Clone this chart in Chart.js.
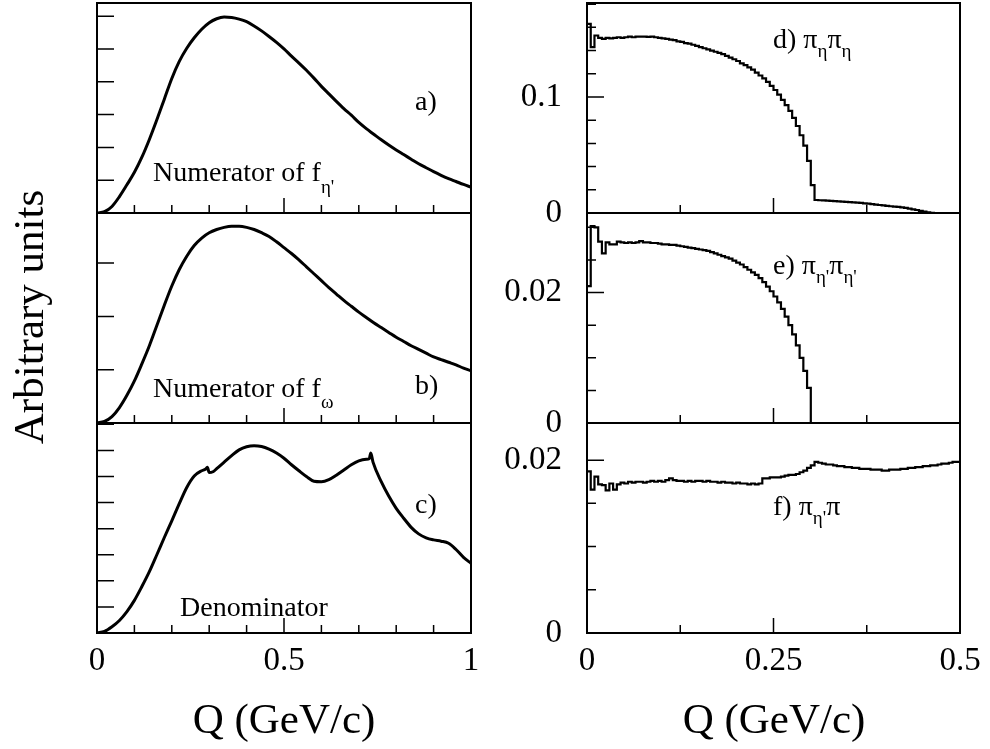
<!DOCTYPE html>
<html>
<head>
<meta charset="utf-8">
<title>Q distributions</title>
<script src="https://cdn.jsdelivr.net/npm/chart.js@4.4.0/dist/chart.umd.min.js"></script>
<style>
  html, body { margin: 0; padding: 0; background: #fff; }
  #wrap { position: relative; width: 990px; height: 749px; }
  #wrap canvas { position: absolute; left: 0; top: 0; }
</style>
</head>
<body>
<div id="wrap">
  <canvas id="pa" width="990" height="749"></canvas>
  <canvas id="pb" width="990" height="749"></canvas>
  <canvas id="pc" width="990" height="749"></canvas>
  <canvas id="pd" width="990" height="749"></canvas>
  <canvas id="pe" width="990" height="749"></canvas>
  <canvas id="pf" width="990" height="749"></canvas>
</div>
<script>
const W = 990, H = 749;
const SERIF = "'Liberation Serif', 'Times New Roman', serif";

// ---- left column: Q from 0 to 1 GeV/c ----
const qLeft = [0.00, 0.02, 0.04, 0.06, 0.08, 0.10, 0.12, 0.14, 0.16, 0.18, 0.20, 0.22, 0.24, 0.26, 0.28,
  0.30, 0.32, 0.34, 0.36, 0.38, 0.40, 0.42, 0.44, 0.46, 0.48, 0.50, 0.52, 0.54, 0.56, 0.58, 0.60, 0.62,
  0.64, 0.66, 0.68, 0.70, 0.72, 0.74, 0.76, 0.78, 0.80, 0.82, 0.84, 0.86, 0.88, 0.90, 0.92, 0.94, 0.96,
  0.98, 1.00];

// a) numerator of f_eta'
const numEtaPrime = [0.00, 0.04, 0.20, 0.50, 0.86, 1.24, 1.70, 2.24, 2.84, 3.47, 4.10, 4.62, 5.02, 5.34,
  5.60, 5.80, 5.92, 5.97, 5.96, 5.91, 5.83, 5.70, 5.55, 5.38, 5.20, 5.00, 4.78, 4.57, 4.35, 4.11, 3.86,
  3.63, 3.40, 3.18, 2.98, 2.76, 2.57, 2.40, 2.23, 2.07, 1.92, 1.78, 1.64, 1.50, 1.38, 1.26, 1.15, 1.05,
  0.96, 0.87, 0.79];

// b) numerator of f_omega
const numOmega = [0.00, 0.03, 0.12, 0.29, 0.52, 0.79, 1.11, 1.45, 1.83, 2.21, 2.57, 2.88, 3.13, 3.33,
  3.47, 3.57, 3.63, 3.67, 3.69, 3.69, 3.67, 3.63, 3.57, 3.50, 3.40, 3.29, 3.18, 3.06, 2.93, 2.80, 2.67,
  2.54, 2.42, 2.30, 2.19, 2.08, 1.98, 1.88, 1.79, 1.70, 1.61, 1.53, 1.45, 1.38, 1.31, 1.24, 1.19, 1.14,
  1.09, 1.03, 0.98];

// c) denominator (finer sampling around the kinks)
const qDenom = [0.00, 0.02, 0.04, 0.06, 0.08, 0.10, 0.12, 0.14, 0.16, 0.18, 0.20, 0.22, 0.24, 0.26, 0.28,
  0.29, 0.295, 0.30, 0.31, 0.32, 0.34, 0.36, 0.38, 0.40, 0.42, 0.44, 0.46, 0.48, 0.50, 0.52, 0.54, 0.56,
  0.58, 0.60, 0.62, 0.64, 0.66, 0.68, 0.70, 0.72, 0.728, 0.732, 0.738, 0.76, 0.78, 0.80, 0.82, 0.84,
  0.86, 0.88, 0.90, 0.92, 0.94, 0.96, 0.98, 1.00];
const denom = [0.00, 0.06, 0.24, 0.48, 0.82, 1.25, 1.78, 2.35, 3.00, 3.66, 4.30, 4.96, 5.58, 6.02, 6.22,
  6.28, 6.35, 6.15, 6.18, 6.30, 6.55, 6.80, 7.02, 7.14, 7.18, 7.15, 7.05, 6.90, 6.70, 6.45, 6.22, 6.00,
  5.82, 5.80, 5.88, 6.05, 6.25, 6.45, 6.60, 6.66, 6.68, 6.90, 6.55, 5.80, 5.25, 4.78, 4.40, 4.05, 3.80,
  3.65, 3.57, 3.52, 3.44, 3.20, 2.90, 2.67];

// ---- right column: histograms, 100 bins over 0..0.5 GeV/c ----
const binWidth = 0.005;

// d) pi_eta pi_eta
const etaEta = [0.163, 0.143, 0.153, 0.151, 0.150, 0.151, 0.1505, 0.151, 0.1515, 0.151,
  0.1515, 0.152, 0.1515, 0.152, 0.152, 0.152, 0.1518, 0.152, 0.1515, 0.151,
  0.1505, 0.150, 0.1495, 0.149, 0.148, 0.1475, 0.1465, 0.146, 0.145, 0.144,
  0.143, 0.142, 0.141, 0.140, 0.139, 0.138, 0.137, 0.1355, 0.134, 0.1325,
  0.131, 0.129, 0.1275, 0.1255, 0.1235, 0.121, 0.1185, 0.116, 0.113, 0.1095,
  0.106, 0.102, 0.0975, 0.093, 0.088, 0.082, 0.075, 0.067, 0.058, 0.045,
  0.024, 0.0112, 0.0110, 0.0108, 0.0106, 0.0104, 0.0102, 0.0100, 0.0098, 0.0096,
  0.0094, 0.0092, 0.0090, 0.0087, 0.0083, 0.0080, 0.0077, 0.0073, 0.0069, 0.0066,
  0.0062, 0.0058, 0.0055, 0.0052, 0.0049, 0.0044, 0.0038, 0.0032, 0.0026, 0.0019,
  0.0012, 0.0006, 0.0002, 0, 0, 0, 0, 0, 0, 0];

// e) pi_eta' pi_eta'
const etapEtap = [0.0210, 0.0302, 0.0300, 0.0278, 0.0260, 0.0277, 0.0274, 0.0274, 0.0278, 0.0277,
  0.0276, 0.0277, 0.0276, 0.0277, 0.0279, 0.0277, 0.0277, 0.0276, 0.0276, 0.0275,
  0.0274, 0.0274, 0.0273, 0.0273, 0.0272, 0.0271, 0.0270, 0.0269, 0.0268, 0.0267,
  0.0266, 0.0265, 0.0264, 0.0262, 0.0260, 0.0258, 0.0256, 0.0254, 0.0252, 0.0249,
  0.0246, 0.0243, 0.0239, 0.0235, 0.0231, 0.0227, 0.0222, 0.0216, 0.0209, 0.0202,
  0.0194, 0.0185, 0.0175, 0.0163, 0.0150, 0.0136, 0.0119, 0.0100, 0.0080, 0.0054,
  0, 0, 0, 0, 0, 0, 0, 0, 0, 0,
  0, 0, 0, 0, 0, 0, 0, 0, 0, 0,
  0, 0, 0, 0, 0, 0, 0, 0, 0, 0,
  0, 0, 0, 0, 0, 0, 0, 0, 0, 0];

// f) pi_eta' pi
const etapPi = [0.0187, 0.0166, 0.0181, 0.0172, 0.0171, 0.0165, 0.0173, 0.0166, 0.0172, 0.0174,
  0.0173, 0.0175, 0.0174, 0.0175, 0.0175, 0.0174, 0.0175, 0.0176, 0.0175, 0.0176,
  0.0175, 0.0177, 0.0179, 0.0177, 0.0176, 0.0176, 0.0175, 0.0176, 0.0175, 0.0176,
  0.0176, 0.0175, 0.0176, 0.0175, 0.0175, 0.0174, 0.0175, 0.0174, 0.0174, 0.0173,
  0.0174, 0.0173, 0.0173, 0.0172, 0.0173, 0.0172, 0.0173, 0.0179, 0.0179, 0.0180,
  0.0180, 0.0180, 0.0181, 0.0182, 0.0183, 0.0183, 0.0184, 0.0186, 0.0188, 0.0191,
  0.0194, 0.0198, 0.0197, 0.0196, 0.0195, 0.0195, 0.0194, 0.0193, 0.0193, 0.0192,
  0.0192, 0.0191, 0.0191, 0.0190, 0.0190, 0.0190, 0.0189, 0.0189, 0.0189, 0.0188,
  0.0188, 0.0189, 0.0189, 0.0189, 0.0190, 0.0190, 0.0191, 0.0191, 0.0192, 0.0192,
  0.0193, 0.0193, 0.0194, 0.0194, 0.0195, 0.0196, 0.0196, 0.0197, 0.0198, 0.0198];

// ---- ticks and labels ----
const leftXMinor = [0.1, 0.2, 0.3, 0.4, 0.6, 0.7, 0.8, 0.9];
const leftXMajor = [0.5];
const leftXLabels = [0, 0.5, 1];
const rightXMinor = [0.125, 0.375];
const rightXMajor = [0.25];
const rightXLabels = [0, 0.25, 0.5];
const yTicksA = [1, 2, 3, 4, 5, 6];
const yTicksB = [1, 2, 3];
const yTicksC = [1, 2, 3, 4, 5, 6, 7, 8];
const yMinorD = [0.02, 0.04, 0.06, 0.08, 0.12, 0.14, 0.16, 0.18];
const yMajorD = [0.1];
const yLabelsD = [0, 0.1];
const yMinorE = [0.005, 0.01, 0.015, 0.025, 0.03];
const yMajorE = [0.02];
const yLabelsE = [0, 0.02];
const yMinorF = [0.005, 0.01, 0.015];
const yMajorF = [0.02];
const yLabelsF = [0, 0.02];

// room kept for the tick labels outside the frame
const Y_LABEL_W = 100, X_LABEL_H = 70;

function xy(xs, ys) {
  return xs.map((x, i) => ({ x: x, y: ys[i] }));
}
// histogram: left bin edges, last edge repeats the final bin
function hist(vals) {
  const pts = vals.map((v, i) => ({ x: i * binWidth, y: v }));
  pts.push({ x: vals.length * binWidth, y: vals[vals.length - 1] });
  return pts;
}

function drawRich(ctx, x, y, parts) {
  parts.forEach(p => {
    ctx.font = p.size + 'px ' + SERIF;
    ctx.fillText(p.text, x, y + (p.dy || 0));
    x += ctx.measureText(p.text).width;
  });
}

// frame, inward ticks and in-pad annotations
const framePlugin = {
  id: 'frame',
  afterDatasetsDraw(chart, args, o) {
    const { ctx, chartArea: a, scales: { x, y } } = chart;
    ctx.save();
    ctx.strokeStyle = '#000';
    ctx.lineWidth = 1.5;
    ctx.beginPath();
    (o.xMinor || []).forEach(v => { const p = x.getPixelForValue(v); ctx.moveTo(p, a.bottom); ctx.lineTo(p, a.bottom - 8); });
    (o.xMajor || []).forEach(v => { const p = x.getPixelForValue(v); ctx.moveTo(p, a.bottom); ctx.lineTo(p, a.bottom - 15); });
    (o.yMinor || []).forEach(v => { const p = y.getPixelForValue(v); ctx.moveTo(a.left, p); ctx.lineTo(a.left + 9, p); });
    (o.yMajor || []).forEach(v => { const p = y.getPixelForValue(v); ctx.moveTo(a.left, p); ctx.lineTo(a.left + 17, p); });
    ctx.stroke();
    ctx.lineWidth = 2;
    ctx.strokeRect(a.left, a.top, a.right - a.left, a.bottom - a.top);
    ctx.fillStyle = '#000';
    ctx.textBaseline = 'alphabetic';
    ctx.textAlign = 'left';
    (o.texts || []).forEach(t => drawRich(ctx, t.x, t.y, t.parts));
    if (o.titles) {
      ctx.font = '43px ' + SERIF;
      ctx.textAlign = 'center';
      ctx.fillText('Q (GeV/c)', 284, 733);
      ctx.fillText('Q (GeV/c)', 774, 733);
      ctx.save();
      ctx.translate(43, 317);
      ctx.rotate(-Math.PI / 2);
      ctx.fillText('Arbitrary units', 0, 0);
      ctx.restore();
    }
    ctx.restore();
  }
};

function scaleOpts(min, max, labels, pad, size) {
  const opts = {
    type: 'linear', min: min, max: max,
    grid: { display: false, drawTicks: false },
    border: { display: false },
    ticks: {
      display: labels.length > 0,
      color: '#000', font: { family: SERIF, size: 33 },
      padding: pad, maxRotation: 0, minRotation: 0, autoSkip: false,
      callback: v => String(v)
    },
    afterFit: s => {
      if (s.isHorizontal()) s.height = size; else s.width = size;
      s.paddingLeft = 0; s.paddingRight = 0; s.paddingTop = 0; s.paddingBottom = 0;
    }
  };
  if (labels.length) opts.afterBuildTicks = s => { s.ticks = labels.map(v => ({ value: v })); };
  return opts;
}

function makePanel(id, p) {
  const yw = p.yLabels.length ? Y_LABEL_W : 0;
  const xh = p.xLabels.length ? X_LABEL_H : 0;
  return new Chart(document.getElementById(id), {
    type: 'line',
    data: {
      datasets: [{
        data: p.points,
        borderColor: '#000',
        borderWidth: p.lw,
        pointRadius: 0,
        fill: false,
        stepped: p.stepped,
        cubicInterpolationMode: p.stepped ? 'default' : 'monotone'
      }]
    },
    options: {
      responsive: false,
      animation: false,
      events: [],
      layout: { padding: { left: p.area[0] - yw, top: p.area[1], right: W - p.area[2], bottom: H - p.area[3] - xh } },
      plugins: { legend: { display: false }, tooltip: { enabled: false }, frame: p.frame },
      scales: {
        x: scaleOpts(p.xr[0], p.xr[1], p.xLabels, 9, xh),
        y: scaleOpts(0, p.ymax, p.yLabels, 25, yw)
      }
    },
    plugins: [framePlugin]
  });
}

const LX = [97, 471], RX = [587, 960];
const ROW = [[3, 213], [213, 423], [423, 633]];

makePanel('pa', {
  points: xy(qLeft, numEtaPrime), lw: 3, stepped: false,
  area: [LX[0], ROW[0][0], LX[1], ROW[0][1]], xr: [0, 1], ymax: 6.40, xLabels: [], yLabels: [],
  frame: { xMinor: leftXMinor, xMajor: leftXMajor, yMajor: yTicksA,
    texts: [
      { x: 415, y: 110, parts: [{ text: 'a)', size: 28 }] },
      { x: 153, y: 181, parts: [{ text: 'Numerator of f', size: 28 }, { text: "\u03b7'", size: 19, dy: 12 }] }
    ] }
});

makePanel('pb', {
  points: xy(qLeft, numOmega), lw: 3, stepped: false,
  area: [LX[0], ROW[1][0], LX[1], ROW[1][1]], xr: [0, 1], ymax: 3.94, xLabels: [], yLabels: [],
  frame: { xMinor: leftXMinor, xMajor: leftXMajor, yMajor: yTicksB,
    texts: [
      { x: 415, y: 394, parts: [{ text: 'b)', size: 28 }] },
      { x: 153, y: 397, parts: [{ text: 'Numerator of f', size: 28 }, { text: '\u03c9', size: 19, dy: 11 }] }
    ] }
});

makePanel('pc', {
  points: xy(qDenom, denom), lw: 3, stepped: false,
  area: [LX[0], ROW[2][0], LX[1], ROW[2][1]], xr: [0, 1], ymax: 8.05, xLabels: leftXLabels, yLabels: [],
  frame: { xMinor: leftXMinor, xMajor: leftXMajor, yMajor: yTicksC,
    texts: [
      { x: 415, y: 513, parts: [{ text: 'c)', size: 28 }] },
      { x: 180, y: 616, parts: [{ text: 'Denominator', size: 28 }] }
    ] }
});

makePanel('pd', {
  points: hist(etaEta), lw: 2.2, stepped: true,
  area: [RX[0], ROW[0][0], RX[1], ROW[0][1]], xr: [0, 0.5], ymax: 0.181, xLabels: [], yLabels: yLabelsD,
  frame: { xMinor: rightXMinor, xMajor: rightXMajor, yMinor: yMinorD, yMajor: yMajorD,
    texts: [
      { x: 773, y: 48, parts: [{ text: 'd) \u03c0', size: 28 }, { text: '\u03b7', size: 19, dy: 9 },
        { text: '\u03c0', size: 28 }, { text: '\u03b7', size: 19, dy: 9 }] }
    ] }
});

makePanel('pe', {
  points: hist(etapEtap), lw: 2.2, stepped: true,
  area: [RX[0], ROW[1][0], RX[1], ROW[1][1]], xr: [0, 0.5], ymax: 0.0322, xLabels: [], yLabels: yLabelsE,
  frame: { xMinor: rightXMinor, xMajor: rightXMajor, yMinor: yMinorE, yMajor: yMajorE,
    texts: [
      { x: 773, y: 274, parts: [{ text: 'e) \u03c0', size: 28 }, { text: "\u03b7'", size: 19, dy: 9 },
        { text: '\u03c0', size: 28 }, { text: "\u03b7'", size: 19, dy: 9 }] }
    ] }
});

makePanel('pf', {
  points: hist(etapPi), lw: 2.2, stepped: true,
  area: [RX[0], ROW[2][0], RX[1], ROW[2][1]], xr: [0, 0.5], ymax: 0.0243, xLabels: rightXLabels, yLabels: yLabelsF,
  frame: { xMinor: rightXMinor, xMajor: rightXMajor, yMinor: yMinorF, yMajor: yMajorF, titles: true,
    texts: [
      { x: 773, y: 515, parts: [{ text: 'f) \u03c0', size: 28 }, { text: "\u03b7'", size: 19, dy: 9 },
        { text: '\u03c0', size: 28 }] }
    ] }
});
</script>
</body>
</html>
